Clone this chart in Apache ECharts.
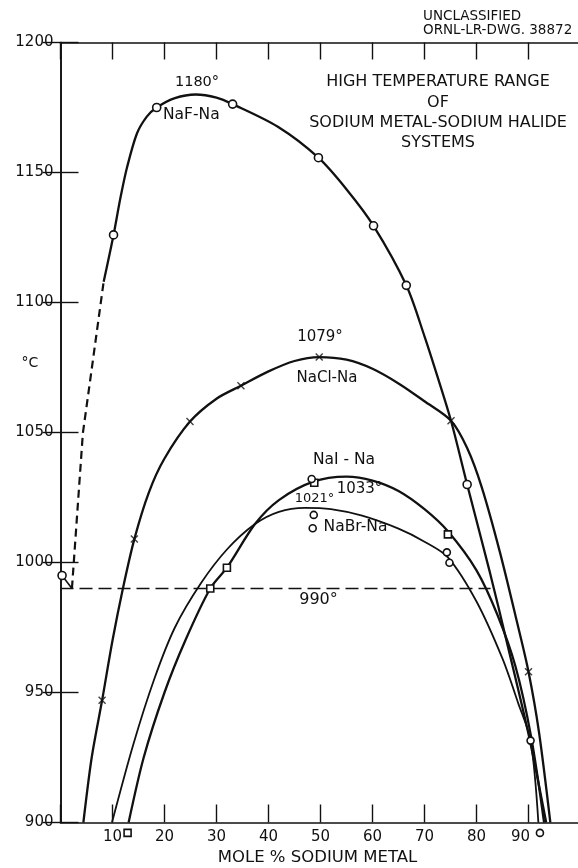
<!DOCTYPE html>
<html>
<head>
<meta charset="utf-8">
<script src="https://cdn.jsdelivr.net/npm/echarts@6/dist/echarts.min.js"></script>
<style>
  html, body { margin: 0; padding: 0; background: #fff; }
  #chart { width: 578px; height: 868px; }
</style>
</head>
<body>
<div id="chart"></div>
<script>
// Liquidus curves (mole % Na, °C)
const nafCurve = [[8.3,1108],[10.2,1126],[11.5,1140],[12.8,1152],[14.7,1165],[16.6,1171.5],[18.5,1175],[22,1178.6],[26,1180],[30,1178.8],[33.1,1176.3],[41.8,1167.6],[49.6,1155.7],[55.1,1143.3],[60.2,1129.5],[66.5,1106.6],[70,1087],[72.5,1071.5],[75.1,1054.5],[78.2,1030],[82.6,996],[86,968],[90,934],[93.4,900]];
const nafDashed = [[2.2,990],[4.3,1049.7],[5.7,1070],[8.3,1108]];
const nafSolidusTail = [[0.3,995],[2.2,990]];
const naclCurve = [[4.4,900],[6,925],[8,947],[10,970],[12,990],[14.2,1009],[17,1027],[20,1040],[24.9,1054.2],[30,1063],[34.7,1068],[40,1073.5],[45,1077.5],[49.75,1079],[55,1078],[60,1074.5],[65.3,1068.5],[70,1062],[75.1,1054.5],[78.2,1044],[81,1029],[84.5,1004],[87.8,977],[90,958],[92,935],[94.2,900]];
const naiCurve = [[13.1,900],[16,925],[20,950],[24,970],[28.8,990],[32,998],[37.4,1014.8],[42,1024],[48.5,1031],[55,1033],[60,1031.5],[65,1027.5],[70,1020.5],[74.5,1012],[80,997],[84,980],[87.5,960],[90.5,933],[93,900]];
const nabrCurve = [[9.9,900],[14,930],[18,955],[22,975],[27,992],[32,1005],[37.4,1014.8],[42,1019.5],[47,1021],[52,1020.5],[58,1018],[65,1013],[70,1008],[74.5,1002],[80,985],[85,963],[88,946],[90.4,931.5],[91.9,900]];
const monotecticLine = [[0,990],[82.7,990]];

// Experimental points
const nafPoints = [[0.3,995],[10.2,1126],[18.5,1175],[33.1,1176.3],[49.6,1155.7],[60.2,1129.5],[66.5,1106.6],[78.2,1030]];
const naclPoints = [[8,947],[14.2,1009],[24.9,1054.2],[34.7,1068],[49.75,1079],[75.1,1054.5],[90,958]];
const naiPoints = [[12.9,896],[28.8,990],[32,998],[48.8,1030.7],[74.5,1010.8]];
const nabrPoints = [[48.3,1032.1],[48.7,1018.3],[48.5,1013.2],[74.3,1003.9],[74.8,999.9],[90.4,931.5],[92.2,896]];

// Axis ticks
const xTickLabels = [10,20,30,40,50,60,70,80,90];
const yTickLabels = [900,950,1000,1050,1100,1150,1200];

const FONT = 'DejaVu Sans';
const INK = '#111';

const chart = echarts.init(document.getElementById('chart'), null, { renderer: 'canvas' });

function curve(data, extra) {
  return Object.assign({
    type: 'line', data: data, symbol: 'none', smooth: 0.3,
    lineStyle: { color: INK, width: 2.3 }, silent: true, clip: true, z: 3
  }, extra || {});
}
function points(data, symbol, size, extra) {
  return Object.assign({
    type: 'scatter', data: data, symbol: symbol, symbolSize: size,
    itemStyle: { color: '#fff', borderColor: INK, borderWidth: 1.6, opacity: 1 },
    silent: true, clip: false, z: 5
  }, extra || {});
}
function note(x, y, text, size, align) {
  return { type: 'text', x: x, y: y, z: 10, style: {
    text: text, font: size + 'px ' + FONT, fill: INK, align: align || 'center', verticalAlign: 'middle' } };
}

const crossPath = 'path://M0,0L10,10M10,0L0,10';

chart.setOption({
  backgroundColor: '#fff',
  animation: false,
  grid: { left: 60.5, top: 42.5, width: 520, height: 780, outerBoundsMode: 'none', containLabel: false },
  xAxis: [{
    type: 'value', min: 0, max: 100, interval: 10, position: 'bottom',
    axisLine: { show: true, lineStyle: { color: INK, width: 1.6 } },
    axisTick: { show: true, inside: true, length: 18, lineStyle: { color: INK, width: 1.4 } },
    splitLine: { show: false },
    axisLabel: {
      show: true, margin: 7, color: INK, fontFamily: FONT, fontSize: 15,
      formatter: function (v) {
        if (xTickLabels.indexOf(v) < 0) return '';
        return v === 90 ? '{s|' + v + '}' : String(v);
      },
      rich: { s: { fontFamily: FONT, fontSize: 15, color: INK, padding: [0, 16, 0, 0] } }
    },
    name: 'MOLE % SODIUM METAL', nameLocation: 'middle', nameGap: 25,
    nameTextStyle: { color: INK, fontFamily: FONT, fontSize: 16.5, padding: [0, 0, 0, -6] }
  }, {
    type: 'value', min: 0, max: 100, interval: 10, position: 'top',
    axisLine: { show: true, lineStyle: { color: INK, width: 1.6 } },
    axisTick: { show: true, inside: true, length: 17, lineStyle: { color: INK, width: 1.4 } },
    axisLabel: { show: false }, splitLine: { show: false }
  }],
  yAxis: [{
    type: 'value', min: 900, max: 1200, interval: 50, position: 'left',
    axisLine: { show: true, lineStyle: { color: INK, width: 1.6 } },
    axisTick: { show: true, inside: true, length: 18, lineStyle: { color: INK, width: 1.4 } },
    splitLine: { show: false },
    axisLabel: {
      show: true, margin: 7, color: INK, fontFamily: FONT, fontSize: 15,
      formatter: function (v) { return yTickLabels.indexOf(v) >= 0 ? String(v) : ''; }
    }
  }, {
    type: 'value', min: 900, max: 1200, interval: 50, position: 'right',
    axisLine: { show: true, lineStyle: { color: INK, width: 1.6 } },
    axisTick: { show: true, inside: true, length: 18, lineStyle: { color: INK, width: 1.4 } },
    axisLabel: { show: false }, splitLine: { show: false }
  }],
  series: [
    curve(monotecticLine, { smooth: false, lineStyle: { color: INK, width: 1.5, type: [13, 6] }, z: 2 }),
    curve(nafDashed, { smooth: false, lineStyle: { color: INK, width: 2.2, type: [8, 5] } }),
    curve(nafSolidusTail, { smooth: false, lineStyle: { color: INK, width: 1.6 } }),
    curve(nafCurve),
    curve(naclCurve),
    curve(naiCurve),
    curve(nabrCurve, { lineStyle: { color: INK, width: 1.8 } }),
    points(nafPoints, 'circle', 8),
    points(naclPoints, crossPath, 7, { itemStyle: { color: 'none', borderColor: INK, borderWidth: 1.4 } }),
    points(naiPoints, 'rect', 7),
    points(nabrPoints, 'circle', 7)
  ],
  graphic: [
    { type: 'text', left: 423, top: 9, style: { text: 'UNCLASSIFIED\nORNL-LR-DWG. 38872', font: '13.5px ' + FONT, fill: INK, lineHeight: 14.5 } },
    { type: 'text', x: 438, y: 72, style: { text: 'HIGH TEMPERATURE RANGE\nOF\nSODIUM METAL-SODIUM HALIDE\nSYSTEMS', font: '16px ' + FONT, fill: INK, align: 'center', lineHeight: 20.3 } },
    note(30, 363, '°C', 14),
    note(197, 82, '1180°', 14.5),
    note(163, 115, 'NaF-Na', 15.5, 'left'),
    note(320, 337, '1079°', 15),
    note(327, 378, 'NaCl-Na', 15),
    note(344, 460, 'NaI - Na', 15.5),
    note(359.5, 489, '1033°', 15),
    note(314.5, 499, '1021°', 13),
    note(355.5, 527, 'NaBr-Na', 15.5),
    note(318.5, 600, '990°', 16)
  ]
});
</script>
</body>
</html>
